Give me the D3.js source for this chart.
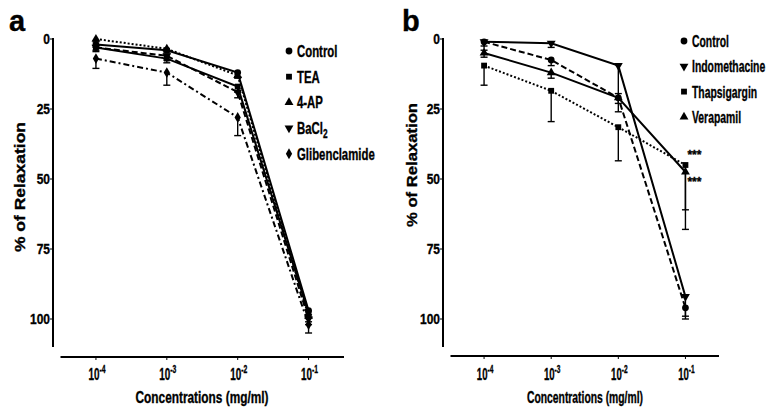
<!DOCTYPE html>
<html>
<head>
<meta charset="utf-8">
<script src="https://cdn.jsdelivr.net/npm/d3@7"></script>
<style>
  body { margin: 0; background: #fff; }
  text { font-family: "Liberation Sans", Arial, sans-serif; font-weight: bold; fill: #000; stroke: #000; stroke-width: 0.35px; }
</style>
</head>
<body>
<div id="chart"></div>
<script>
// concentrations (mg/ml) and tick labels
var concentrations = [1e-4, 1e-3, 1e-2, 1e-1];
var xExponents = ["-4", "-3", "-2", "-1"];
var yTicks = [0, 25, 50, 75, 100];

// panel a: % of relaxation, mean and error
var aNames = ["Control", "TEA", "4-AP", "BaCl2", "Glibenclamide"];
var aControl = [2, 4, 12, 97];
var aControlErr = [1, 1, 1.5, 1.5];
var aTEA = [3, 7, 17, 98];
var aTEAErr = [1, 1.5, 2, 1.5];
var a4AP = [0, 3.5, 13, 99];
var a4APErr = [1, 1, 1, 2];
var aBaCl2 = [3, 6, 19, 100];
var aBaCl2Err = [1.5, 1.5, 2, 2];
var aGlib = [7, 12, 28, 102];
var aGlibErr = [3.5, 4.5, 6.5, 3];

// panel b
var bNames = ["Control", "Indomethacine", "Thapsigargin", "Verapamil"];
var bControl = [1, 7.5, 21, 96];
var bControlErr = [3, 2, 5, 4];
var bIndo = [1, 1.5, 9.5, 92];
var bIndoErr = [1.5, 1.5, 10, 7];
var bThaps = [9.5, 18.5, 31.5, 45];
var bThapsErr = [7, 11, 12, 16];
var bVera = [5, 12, 21, 47.5];
var bVeraErr = [1.5, 2, 2, 20.5];

var width = 767, height = 407;
var svg = d3.select("#chart").append("svg")
  .attr("width", width)
  .attr("height", height);

var circle = d3.symbol().type(d3.symbolCircle).size(36);
var square = d3.symbol().type(d3.symbolSquare).size(34);
var triangle = d3.symbol().type(d3.symbolTriangle).size(34);
var diamond = d3.symbol().type(d3.symbolDiamond).size(34);

var panelA = {
  letter: "a", letterX: 9,
  yAxisX: 53, xRange: [60.5, 344], axisY: 357,
  yTitleX: 25, yTitleY: 187, yTitleLen: 130,
  xTitleX: 202, xTitleLen: 133,
  squeeze: 0.69, tickSqueeze: 0.62,
  legendX: 289, legendY: 51, legendStep: 25.7,
  series: [
    { name: aNames[0], values: aControl, err: aControlErr, dash: null, shape: circle, rot: 0 },
    { name: aNames[1], values: aTEA, err: aTEAErr, dash: null, shape: square, rot: 0 },
    { name: aNames[2], values: a4AP, err: a4APErr, dash: "2,2", shape: triangle, rot: 0 },
    { name: aNames[3], values: aBaCl2, err: aBaCl2Err, dash: "6,3", shape: triangle, rot: 180 },
    { name: aNames[4], values: aGlib, err: aGlibErr, dash: "6,3,2,3", shape: diamond, rot: 0 }
  ],
  stars: []
};

var panelB = {
  letter: "b", letterX: 402,
  yAxisX: 443, xRange: [450.5, 719], axisY: 356,
  yTitleX: 417, yTitleY: 165, yTitleLen: 124,
  xTitleX: 585, xTitleLen: 116,
  squeeze: 0.63, tickSqueeze: 0.6,
  legendX: 684, legendY: 41, legendStep: 25.3,
  series: [
    { name: bNames[0], values: bControl, err: bControlErr, dash: "6,3", shape: circle, rot: 0 },
    { name: bNames[1], values: bIndo, err: bIndoErr, dash: null, shape: triangle, rot: 180 },
    { name: bNames[2], values: bThaps, err: bThapsErr, dash: "2,2", shape: square, rot: 0 },
    { name: bNames[3], values: bVera, err: bVeraErr, dash: null, shape: triangle, rot: 0 }
  ],
  stars: [41.5, 51]
};

// text squeezed horizontally (the figure uses a condensed face)
function squeezed(g, x, y, k, size, anchor) {
  return g.append("text")
    .attr("transform", "translate(" + x + "," + y + ") scale(" + k + ",1)")
    .attr("font-size", size)
    .attr("text-anchor", anchor || "start");
}

function drawPanel(p) {
  var g = svg.append("g");

  var x = d3.scaleLog().domain([Math.pow(10, -4.5), Math.pow(10, -0.5)]).range(p.xRange);
  var y = d3.scaleLinear().domain([0, 110]).range([39, 347]);

  // panel letter
  g.append("text")
    .attr("x", p.letterX).attr("y", 31)
    .attr("font-size", 29).text(p.letter);

  // y axis
  g.append("line").attr("x1", p.yAxisX).attr("x2", p.yAxisX)
    .attr("y1", y(0) - 1).attr("y2", y(110))
    .attr("stroke", "#000").attr("stroke-width", 2);
  g.selectAll("line.ytick").data(yTicks).enter().append("line")
    .attr("x1", p.yAxisX - 3).attr("x2", p.yAxisX)
    .attr("y1", function(d) { return y(d); }).attr("y2", function(d) { return y(d); })
    .attr("stroke", "#000").attr("stroke-width", 1);
  yTicks.forEach(function(d) {
    squeezed(g, p.yAxisX - 3, y(d) + 5, 0.8, 15, "end").text(d);
  });

  // x axis
  g.append("line").attr("x1", p.xRange[0]).attr("x2", p.xRange[1])
    .attr("y1", p.axisY).attr("y2", p.axisY)
    .attr("stroke", "#000").attr("stroke-width", 2);
  g.selectAll("line.xtick").data(concentrations).enter().append("line")
    .attr("x1", function(d) { return x(d); }).attr("x2", function(d) { return x(d); })
    .attr("y1", p.axisY).attr("y2", p.axisY + 3)
    .attr("stroke", "#000").attr("stroke-width", 1);
  concentrations.forEach(function(d, i) {
    var t = squeezed(g, x(d) + 1, 380, p.tickSqueeze, 16, "middle");
    t.append("tspan").text("10");
    t.append("tspan").attr("dy", -7).attr("font-size", 11).text(xExponents[i]);
  });

  // axis titles
  g.append("text")
    .attr("transform", "translate(" + p.yTitleX + "," + p.yTitleY + ") rotate(-90)")
    .attr("text-anchor", "middle").attr("font-size", 15.5)
    .attr("textLength", p.yTitleLen).attr("lengthAdjust", "spacingAndGlyphs")
    .text("% of Relaxation");
  g.append("text")
    .attr("x", p.xTitleX).attr("y", 403)
    .attr("text-anchor", "middle").attr("font-size", 16)
    .attr("textLength", p.xTitleLen).attr("lengthAdjust", "spacingAndGlyphs")
    .text("Concentrations (mg/ml)");

  var line = d3.line()
    .x(function(d, i) { return x(concentrations[i]); })
    .y(function(d) { return y(d); });

  p.series.forEach(function(s) {
    var sg = g.append("g");
    // error bars (toward higher values)
    s.values.forEach(function(v, i) {
      var cx = x(concentrations[i]);
      sg.append("line").attr("x1", cx).attr("x2", cx)
        .attr("y1", y(v)).attr("y2", y(v + s.err[i]))
        .attr("stroke", "#000").attr("stroke-width", 1.4);
      sg.append("line").attr("x1", cx - 3.5).attr("x2", cx + 3.5)
        .attr("y1", y(v + s.err[i])).attr("y2", y(v + s.err[i]))
        .attr("stroke", "#000").attr("stroke-width", 1.4);
    });
    sg.append("path").datum(s.values)
      .attr("d", line)
      .attr("fill", "none").attr("stroke", "#000").attr("stroke-width", 2)
      .attr("stroke-dasharray", s.dash);
    sg.selectAll("path.mark").data(s.values).enter().append("path")
      .attr("d", s.shape)
      .attr("transform", function(d, i) {
        return "translate(" + x(concentrations[i]) + "," + y(d) + ") rotate(" + s.rot + ")";
      })
      .attr("fill", "#000");
  });

  // legend
  p.series.forEach(function(s, i) {
    var ly = p.legendY + i * p.legendStep;
    g.append("path").attr("d", s.shape)
      .attr("transform", "translate(" + p.legendX + "," + ly + ") rotate(" + s.rot + ")")
      .attr("fill", "#000");
    var t = squeezed(g, p.legendX + 8, ly + 6, p.squeeze, 16.5);
    if (s.name == "BaCl2") {
      t.append("tspan").text("BaCl");
      t.append("tspan").attr("dy", 4).attr("font-size", 12).text("2");
    } else {
      t.text(s.name);
    }
  });

  // significance marks
  p.stars.forEach(function(v) {
    g.append("text").attr("x", x(1e-1) + 2).attr("y", y(v) + 4)
      .attr("font-size", 12).text("***");
  });
}

drawPanel(panelA);
drawPanel(panelB);
</script>
</body>
</html>
